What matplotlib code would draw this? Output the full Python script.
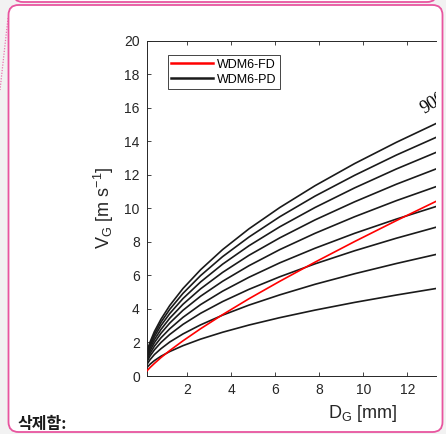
import matplotlib
matplotlib.use("Agg")
from matplotlib import pyplot as plt
from matplotlib.patches import FancyBboxPatch

d_mm = [0.07, 0.15, 0.3, 0.5, 0.8, 1.2, 1.8, 2.6, 3.6, 4.8, 6.2, 7.8, 9.6, 11.5, 13.4]

# WDM6-FD fall speed [m/s]
v_fd = [0.16, 0.29, 0.50, 0.75, 1.10, 1.52, 2.10, 2.82, 3.66, 4.61, 5.65, 6.79, 8.02, 9.27, 10.48]

# WDM6-PD fall speed [m/s], one curve per graupel density (bottom to top)
v_pd_100 = [0.32, 0.49, 0.70, 0.92, 1.18, 1.46, 1.81, 2.20, 2.61, 3.04, 3.48, 3.93, 4.39, 4.83, 5.24]
v_pd_200 = [0.45, 0.67, 0.97, 1.28, 1.63, 2.03, 2.51, 3.05, 3.63, 4.23, 4.84, 5.47, 6.10, 6.71, 7.28]
v_pd_300 = [0.55, 0.82, 1.19, 1.56, 2.00, 2.48, 3.08, 3.74, 4.44, 5.17, 5.92, 6.69, 7.47, 8.22, 8.91]
v_pd_400 = [0.63, 0.94, 1.35, 1.78, 2.28, 2.82, 3.50, 4.26, 5.06, 5.89, 6.75, 7.62, 8.51, 9.36, 10.15]
v_pd_500 = [0.70, 1.05, 1.51, 1.99, 2.55, 3.16, 3.92, 4.76, 5.65, 6.58, 7.54, 8.51, 9.50, 10.46, 11.34]
v_pd_600 = [0.77, 1.15, 1.66, 2.17, 2.78, 3.45, 4.28, 5.20, 6.18, 7.20, 8.24, 9.31, 10.39, 11.44, 12.40]
v_pd_700 = [0.83, 1.24, 1.79, 2.35, 3.01, 3.73, 4.62, 5.61, 6.67, 7.77, 8.90, 10.05, 11.22, 12.35, 13.39]
v_pd_800 = [0.88, 1.32, 1.91, 2.50, 3.21, 3.98, 4.93, 5.99, 7.12, 8.29, 9.50, 10.73, 11.97, 13.18, 14.29]
v_pd_900 = [0.93, 1.40, 2.02, 2.65, 3.39, 4.21, 5.22, 6.34, 7.54, 8.78, 10.05, 11.35, 12.67, 13.94, 15.12]

pd_curves = [v_pd_100, v_pd_200, v_pd_300, v_pd_400, v_pd_500,
             v_pd_600, v_pd_700, v_pd_800, v_pd_900]

x_ticks = [2, 4, 6, 8, 10, 12]
y_ticks = [0, 2, 4, 6, 8, 10, 12, 14, 16, 18, 20]

W, H = 446, 434
PINK = "#e8559f"
AX_COL = "#262626"

fig = plt.figure(figsize=(W / 100, H / 100), dpi=100)
fig.patch.set_facecolor("#f2f2f2")

# screenshot frame drawn in pixel coordinates
bg = fig.add_axes([0, 0, 1, 1], zorder=0)
bg.set_xlim(0, W)
bg.set_ylim(H, 0)
bg.axis("off")
bg.add_patch(FancyBboxPatch((13, -30), 424, 32, boxstyle="round,pad=0,rounding_size=10",
                            fc="white", ec=PINK, lw=1.3))
bg.add_patch(FancyBboxPatch((8.5, 5), 434, 427, boxstyle="round,pad=0,rounding_size=10",
                            fc="white", ec=PINK, lw=1.3))
bg.plot([8, 0], [18, 90], color=PINK, lw=0.9, ls=(0, (1, 1.2)), alpha=0.8)
bg.text(18, 424, "삭제함:", fontsize=11.5, fontweight="bold", va="center", ha="left",
        family=["Noto Sans CJK KR", "DejaVu Sans"], color="#1a1a1a")

ax = fig.add_axes([146.7 / W, (H - 376) / H, (436 - 146.7) / W, (376 - 40.7) / H], zorder=1)
ax.patch.set_alpha(0)

for i, v in enumerate(pd_curves):
    ax.plot(d_mm, v, color="#1a1a1a", lw=1.2, label="WDM6-PD" if i == 0 else None, zorder=2)
ax.plot(d_mm, v_fd, color="red", lw=1.2, label="WDM6-FD", zorder=3)

ax.text(12.85, 15.4, "900", family="Liberation Serif", fontsize=13, rotation=32,
        rotation_mode="anchor", ha="left", va="bottom", clip_on=True)

ax.set_xlim(0.15, 13.3)
ax.set_ylim(0, 20)
ax.set_xticks(x_ticks)
ax.set_yticks(y_ticks)
ax.spines["right"].set_visible(False)
for s in ["left", "top", "bottom"]:
    ax.spines[s].set_color(AX_COL)
    ax.spines[s].set_linewidth(0.7)
ax.tick_params(direction="in", length=3, width=0.6, color=AX_COL, labelcolor=AX_COL,
               labelsize=10, top=True, right=False, pad=5)
for lab in ax.get_xticklabels() + ax.get_yticklabels():
    lab.set_family("Liberation Sans")

ax.set_xlabel("D$_\\mathregular{G}$ [mm]", fontsize=13, family="Liberation Sans", color=AX_COL)
ax.set_ylabel("V$_\\mathregular{G}$ [m s$^\\mathregular{-1}$]", fontsize=13,
              family="Liberation Sans", color=AX_COL)
ax.xaxis.set_label_coords(0.748, -0.08)
ax.yaxis.set_label_coords(-0.105, 0.5)

handles, labels = ax.get_legend_handles_labels()
order = [labels.index("WDM6-FD"), labels.index("WDM6-PD")]
leg = ax.legend([handles[k] for k in order], [labels[k] for k in order],
                loc="upper left", bbox_to_anchor=(0.0726, 0.958), borderaxespad=0,
                fancybox=False, edgecolor=AX_COL, framealpha=1, handlelength=3.3,
                handletextpad=0.35, borderpad=0.3, labelspacing=0.25,
                prop={"family": "Liberation Sans", "size": 9})
leg.get_frame().set_linewidth(0.6)
for line in leg.get_lines():
    line.set_linewidth(1.8)

fig.savefig("out.png", dpi=100, facecolor=fig.get_facecolor())
